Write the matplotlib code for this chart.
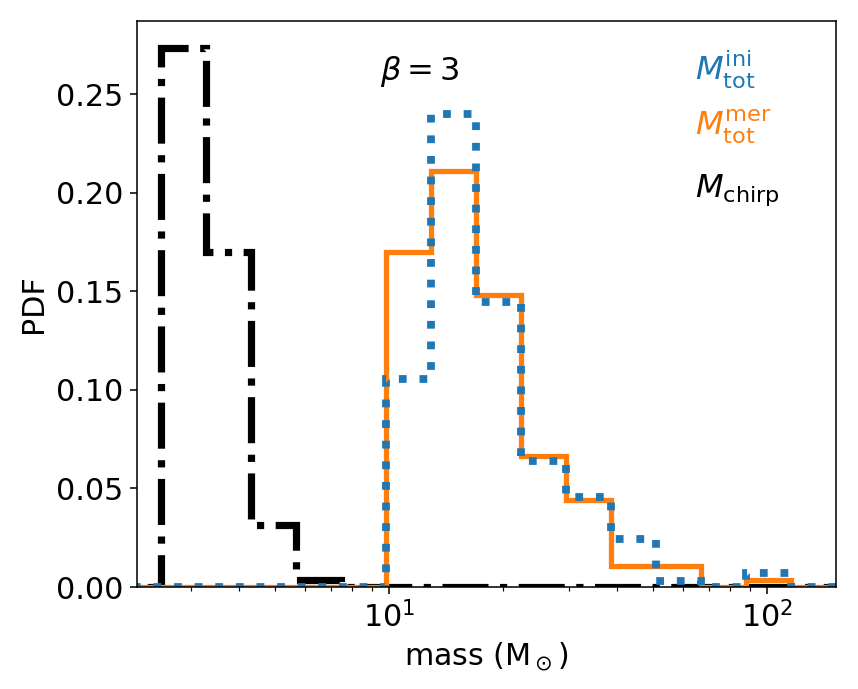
import numpy as np
import matplotlib
matplotlib.use("Agg")
import matplotlib.pyplot as plt

# Common logarithmic bin edges (solar masses)
bin_edges = [1.438, 1.892, 2.489, 3.274, 4.307, 5.666, 7.455, 9.806, 12.90,
             16.97, 22.33, 29.37, 38.64, 50.83, 66.87, 87.97, 115.7, 152.2, 200.3]

# PDF values per bin
pdf_chirp = [0, 0, 0.2735, 0.170, 0.0317, 0.0035, 0, 0, 0, 0, 0, 0, 0, 0, 0, 0, 0, 0]
pdf_mer = [0, 0, 0, 0, 0, 0, 0, 0.170, 0.2113, 0.1484, 0.0666, 0.0443, 0.0109,
           0.0109, 0, 0.0035, 0, 0]
pdf_ini = [0, 0, 0, 0, 0, 0, 0, 0.1056, 0.2402, 0.1444, 0.0638, 0.0456, 0.0242,
           0.0030, 0, 0.0069, 0, 0]

xlim = (2.154, 152.2)
fs = 15.5
fs_txt = 16.5

fig = plt.figure(figsize=(858 / 140, 689 / 140), dpi=140)
ax = fig.add_axes([0.1597, 0.148, 0.9744 - 0.1597, 0.9695 - 0.148])

ax.stairs(pdf_chirp, bin_edges, color="black", linestyle="-.", linewidth=3.7)
ax.stairs(pdf_mer, bin_edges, color="#ff7f0e", linestyle="-", linewidth=2.7)
ax.stairs(pdf_ini, bin_edges, color="#1f77b4", linestyle=":", linewidth=4.0)

ax.set_xscale("log")
ax.set_xlim(*xlim)
ax.set_ylim(0, max(pdf_chirp + pdf_mer + pdf_ini) * 1.05)
ax.set_yticks([0, 0.05, 0.10, 0.15, 0.20, 0.25])
ax.set_yticklabels(["0.00", "0.05", "0.10", "0.15", "0.20", "0.25"])
ax.tick_params(labelsize=fs)
ax.set_xlabel(r"mass (M$_\odot$)", fontsize=fs)
ax.set_ylabel("PDF", fontsize=fs)

ax.text(0.348, 0.896, r"$\beta=3$", transform=ax.transAxes, fontsize=fs_txt,
        va="baseline", ha="left")
ax.text(0.798, 0.896, r"$M_{\rm tot}^{\rm ini}$", transform=ax.transAxes,
        fontsize=fs_txt, color="#1f77b4", va="baseline", ha="left")
ax.text(0.798, 0.799, r"$M_{\rm tot}^{\rm mer}$", transform=ax.transAxes,
        fontsize=fs_txt, color="#ff7f0e", va="baseline", ha="left")
ax.text(0.798, 0.689, r"$M_{\rm chirp}$", transform=ax.transAxes,
        fontsize=fs_txt, color="black", va="baseline", ha="left")

fig.savefig("out.png", dpi=140)
